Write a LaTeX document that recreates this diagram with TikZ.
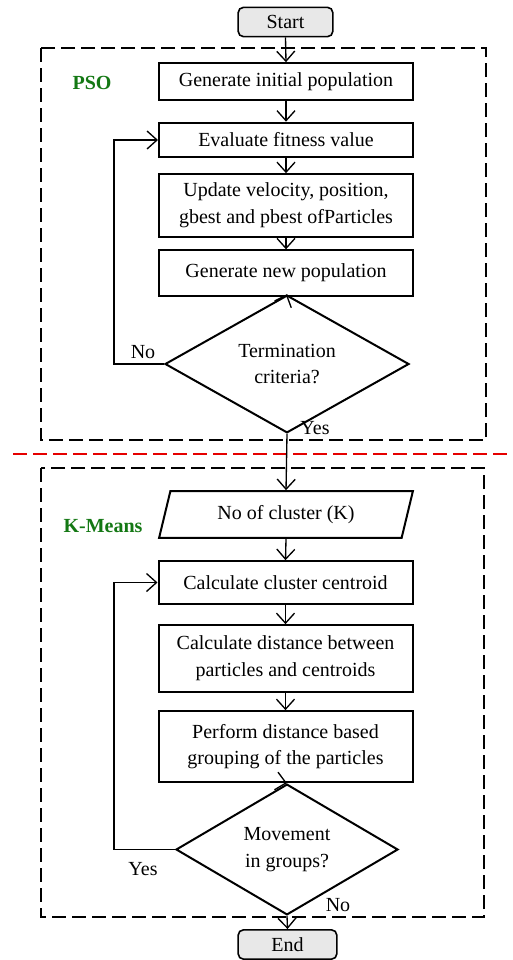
\documentclass[tikz,border=0pt]{standalone}
\usepackage{fontspec}
\setmainfont{Liberation Serif}
\usetikzlibrary{shapes.geometric,arrows.meta}
\definecolor{labgreen}{RGB}{20,120,20}
\tikzset{
  procbox/.style={draw, line width=1.5pt, minimum width=190.5pt, inner sep=2pt, align=center, font=\fontsize{15}{20}\selectfont},
  termbox/.style={draw, line width=1.2pt, rounded corners=4pt, fill=gray!18, minimum height=22pt, font=\fontsize{15}{18}\selectfont},
  decbox/.style={draw, diamond, line width=1.5pt, inner sep=0pt, align=center, font=\fontsize{15}{20}\selectfont},
  groupbox/.style={line width=1.6pt, dash pattern=on 10.5pt off 4.5pt},
  arr/.style={-{Straight Barb[length=7.5pt,width=13.5pt]}, line width=1pt},
  tag/.style={font=\fontsize{15}{18}\selectfont},
  grouptag/.style={font=\fontsize{15}{18}\selectfont\bfseries, text=labgreen}
}
\begin{document}
\begin{tikzpicture}[x=0.75pt,y=-0.75pt]
    \useasboundingbox (0,0) rectangle (512,960);
    % dashed groups and the divider
    \draw[groupbox] (41,48) rectangle (486,440);
    \draw[groupbox] (41,468) rectangle (484,917);
    \draw[groupbox, red!90!black] (13,454) -- (512,454);
    \node[grouptag] (psotag) at (92,83) {PSO};
    \node[grouptag] (kmtag) at (103,526) {K-Means};
    % PSO part
    \node[termbox, minimum width=71pt] (start) at (285.5,22) {Start};
    \node[procbox, minimum height=27.5pt] (n1) at (286,81.5) {Generate initial population};
    \node[procbox, minimum height=26pt] (n2) at (286,140) {Evaluate fitness value};
    \node[procbox, minimum height=47pt] (n3) at (286,205.5) {Update velocity, position,\\gbest and pbest ofParticles};
    \node[procbox, minimum height=34pt] (n4) at (286,273) {Generate new population};
    \node[decbox, minimum width=183pt, minimum height=70.5pt] (d1) at (287,364) {Termination\\criteria?};
    % K-Means part
    \node[draw, trapezium, trapezium left angle=70, trapezium right angle=110, trapezium stretches=true,
          line width=1.5pt, minimum width=190.5pt, minimum height=35pt, inner sep=0pt,
          font=\fontsize{15}{18}\selectfont] (k1) at (286,514.5) {No of cluster (K)};
    \node[procbox, minimum height=32pt] (k2) at (285.5,582.5) {Calculate cluster centroid};
    \node[procbox, minimum height=50pt] (k3) at (285.5,658.5) {Calculate distance between\\particles and centroids};
    \node[procbox, minimum height=53pt] (k4) at (285.5,746.5) {Perform distance based\\grouping of the particles};
    \node[decbox, minimum width=166.5pt, minimum height=70pt] (d2) at (287,849.5) {Movement\\in groups?};
    \node[termbox, minimum width=74pt] (end) at (287.5,944.5) {End};
    % main flow
    \foreach \a/\b in {start/n1,n1/n2,n2/n3,n3/n4,n4/d1,d1/k1,k1/k2,k2/k3,k3/k4,k4/d2,d2/end}
      {\draw[arr] (\a.south) -- (\b.north);}
    % loops back
    \coordinate (c1) at (114,364);
    \coordinate (c2) at (114,849.5);
    \draw[arr] (d1.west) -- (c1) |- (n2.west);
    \draw[arr] (d2.west) -- (c2) |- (k2.west);
    \node[tag] (no1) at (143,352) {No};
    \node[tag] (yes1) at (315,428) {Yes};
    \node[tag] (yes2) at (143,869) {Yes};
    \node[tag] (no2) at (338,905) {No};
\end{tikzpicture}
\end{document}
